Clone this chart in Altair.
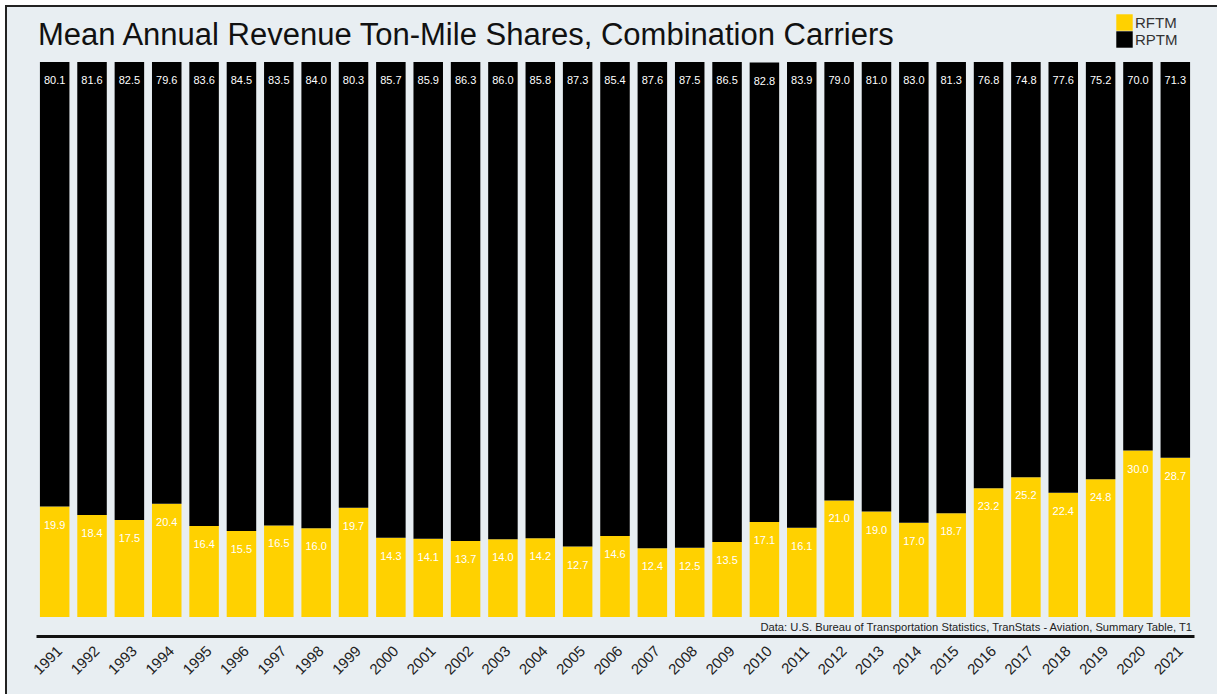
import altair as alt
import pandas as pd

years = list(range(1991, 2022))
rptm = [80.1, 81.6, 82.5, 79.6, 83.6, 84.5, 83.5, 84.0, 80.3, 85.7, 85.9, 86.3, 86.0, 85.8, 87.3,
        85.4, 87.6, 87.5, 86.5, 82.8, 83.9, 79.0, 81.0, 83.0, 81.3, 76.8, 74.8, 77.6, 75.2, 70.0, 71.3]
rftm = [19.9, 18.4, 17.5, 20.4, 16.4, 15.5, 16.5, 16.0, 19.7, 14.3, 14.1, 13.7, 14.0, 14.2, 12.7,
        14.6, 12.4, 12.5, 13.5, 17.1, 16.1, 21.0, 19.0, 17.0, 18.7, 23.2, 25.2, 22.4, 24.8, 30.0, 28.7]
series = ["RFTM", "RPTM"]
colors = ["#FFD100", "#000000"]
title = "Mean Annual Revenue Ton-Mile Shares, Combination Carriers"
source = "Data: U.S. Bureau of Transportation Statistics, TranStats - Aviation, Summary Table, T1"

rows = []
for yr, f, p in zip(years, rftm, rptm):
    rows.append({"year": str(yr), "series": "RFTM", "value": f, "ord": 0, "top": f})
    rows.append({"year": str(yr), "series": "RPTM", "value": p, "ord": 1, "top": f + p})
df = pd.DataFrame(rows)

W, H = 1158, 555
FONT = "Liberation Sans"

xenc = alt.X(
    "year:N", title=None,
    scale=alt.Scale(paddingInner=0.21, paddingOuter=0.105),
    axis=alt.Axis(labelAngle=-45, labelFontSize=15, labelColor="#222", labelFont=FONT,
                  domainColor="#111", domainWidth=3, ticks=False, labelPadding=7,
                  offset=19, grid=False),
)

base = alt.Chart(df)

bars = base.mark_bar().encode(
    x=xenc,
    y=alt.Y("value:Q", stack="zero", scale=alt.Scale(domain=[0, 100], nice=False), axis=None),
    color=alt.Color("series:N", scale=alt.Scale(domain=series, range=colors),
                    legend=alt.Legend(title=None, orient="none", legendX=1080, legendY=-48,
                                      symbolType="square", symbolSize=270, symbolStrokeWidth=0,
                                      labelFontSize=15, labelFont=FONT, labelColor="#333",
                                      rowPadding=0, labelOffset=2)),
    order=alt.Order("ord:Q"),
)

labels = base.mark_text(dy=19, fontSize=11, color="white", font=FONT, baseline="middle").encode(
    x=alt.X("year:N"),
    y=alt.Y("top:Q"),
    text=alt.Text("value:Q", format=".1f"),
)

src = alt.Chart(alt.Data(values=[{"t": source}])).mark_text(
    align="right", baseline="middle", fontSize=11.2, font=FONT, color="#222"
).encode(x=alt.value(W - 2), y=alt.value(H + 11), text="t:N")

ttl = alt.Chart(alt.Data(values=[{"t": title}])).mark_text(
    align="left", baseline="alphabetic", fontSize=31, font=FONT, color="#111"
).encode(x=alt.value(2), y=alt.value(-17), text="t:N")

white_top = alt.Chart(alt.Data(values=[{"a": 1}])).mark_rect(color="white").encode(
    x=alt.value(-36), x2=alt.value(W + 23), y=alt.value(-62), y2=alt.value(-57))
white_left = alt.Chart(alt.Data(values=[{"a": 1}])).mark_rect(color="white").encode(
    x=alt.value(-36), x2=alt.value(-31), y=alt.value(-62), y2=alt.value(H + 77))
border_top = alt.Chart(alt.Data(values=[{"a": 1}])).mark_rule(color="#222", strokeWidth=2).encode(
    x=alt.value(-31), x2=alt.value(W + 23), y=alt.value(-56))
border_left = alt.Chart(alt.Data(values=[{"a": 1}])).mark_rule(color="#222", strokeWidth=2).encode(
    x=alt.value(-30), y=alt.value(-57), y2=alt.value(H + 77))

chart = alt.layer(bars, labels, src, ttl, white_top, white_left, border_top, border_left).properties(
    width=W, height=H,
    background="#E8EEF2",
    padding={"left": 36, "top": 62, "right": 23, "bottom": 77},
    autosize=alt.AutoSizeParams(type="none"),
).configure_view(stroke=None)

chart.save("out.html", embed_options={"renderer": "svg", "actions": False})
